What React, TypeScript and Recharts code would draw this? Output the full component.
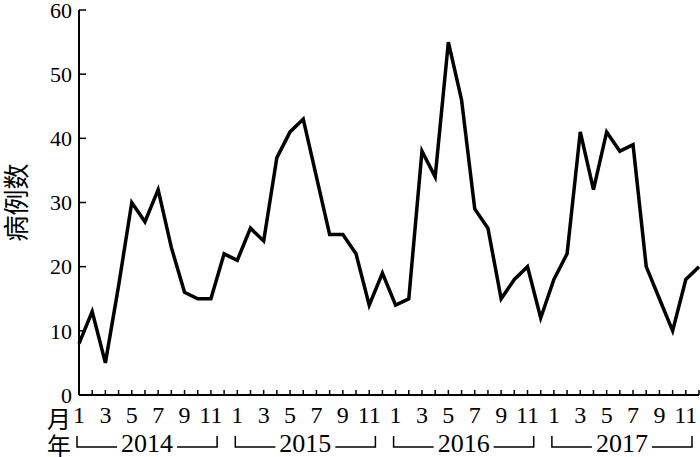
import { LineChart, Line, XAxis, YAxis } from "recharts";

// monthly case counts, Jan..Dec
const years = [2014, 2015, 2016, 2017];
const cases2014 = [8, 13, 5, 17, 30, 27, 32, 23, 16, 15, 15, 22];
const cases2015 = [21, 26, 24, 37, 41, 43, 34, 25, 25, 22, 14, 19];
const cases2016 = [14, 15, 38, 34, 55, 46, 29, 26, 15, 18, 20, 12];
const cases2017 = [18, 22, 41, 32, 41, 38, 39, 20, 15, 10, 18, 20];
const monthLabels = ["1", "", "3", "", "5", "", "7", "", "9", "", "11", ""];
const yTicks = [0, 10, 20, 30, 40, 50, 60];

const W = 700;
const H = 457;
const LEFT = 79;
const RIGHT = 1;
const SERIF = "'Liberation Serif', 'Times New Roman', serif";
const CJK = "'Noto Sans CJK SC', sans-serif";

const perYear = [cases2014, cases2015, cases2016, cases2017];
const data = years.flatMap((yr, yi) =>
  perYear[yi].map((v, m) => ({ idx: yi * 12 + m, year: yr, month: m + 1, cases: v }))
);
const STEP = (W - LEFT - RIGHT) / (data.length - 1);

const MonthTick = (props: any) => {
  const { x, y, payload } = props;
  const i = Number(payload.value);
  return (
    <g>
      {i === 0 && (
        <text x={x - 20} y={y + 11} textAnchor="middle" dominantBaseline="central" fontSize={24} fontFamily={CJK} fill="#000">
          月
        </text>
      )}
      <text x={x} y={y} dy="0.71em" textAnchor="middle" fontSize={24} fontFamily={SERIF} fill="#000">
        {monthLabels[i % 12]}
      </text>
    </g>
  );
};

const YearTick = (props: any) => {
  const { x, y, payload } = props;
  const i = Number(payload.value);
  if (i % 12 !== 0) return <g />;
  const x0 = x - 2;
  const x1 = Math.min(x + 11 * STEP - 7, W - 2);
  const cx = (x0 + x1) / 2;
  const half = 30;
  return (
    <g>
      {i === 0 && (
        <text x={x - 20} y={y + 19} textAnchor="middle" dominantBaseline="central" fontSize={24} fontFamily={CJK} fill="#000">
          年
        </text>
      )}
      <path
        d={`M${x0},${y + 11} V${y + 22} H${cx - half} M${cx + half},${y + 22} H${x1} V${y + 11}`}
        stroke="#000"
        strokeWidth={1.5}
        fill="none"
      />
      <text x={cx} y={y + 18} textAnchor="middle" dominantBaseline="central" fontSize={26} fontFamily={SERIF} fill="#000">
        {years[i / 12]}
      </text>
    </g>
  );
};

const YLabel = (props: any) => {
  const vb = props.viewBox || { y: 10, height: 385 };
  const cy = vb.y + vb.height / 2;
  return (
    <text x={14} y={cy} transform={`rotate(-90 14 ${cy})`} textAnchor="middle" dominantBaseline="central" fontSize={26} fontFamily={CJK} fill="#000">
      病例数
    </text>
  );
};

const App = () => {
  return (
    <div style={{ position: "absolute", left: 0, top: 0, background: "#fff" }}>
      <LineChart width={W} height={H} data={data} margin={{ top: 10, right: RIGHT, left: 0, bottom: 0 }}>
        <XAxis
          xAxisId="m"
          dataKey="idx"
          interval={0}
          height={30}
          tickSize={-5}
          tickMargin={16}
          axisLine={{ stroke: "#000", strokeWidth: 2 }}
          tickLine={{ stroke: "#000", strokeWidth: 1.5 }}
          tick={(p: any) => <MonthTick {...p} />}
        />
        <XAxis
          xAxisId="y"
          dataKey="idx"
          interval={0}
          height={32}
          tickSize={0}
          tickMargin={0}
          axisLine={false}
          tickLine={false}
          tick={(p: any) => <YearTick {...p} />}
        />
        <YAxis
          width={LEFT}
          domain={[0, 60]}
          ticks={yTicks}
          interval={0}
          tickSize={-7}
          tickMargin={14}
          axisLine={{ stroke: "#000", strokeWidth: 2 }}
          tickLine={{ stroke: "#000", strokeWidth: 1.5 }}
          tick={{ fill: "#000", fontSize: 22, fontFamily: SERIF }}
          label={{ content: (p: any) => <YLabel {...p} /> }}
        />
        <Line
          xAxisId="m"
          type="linear"
          dataKey="cases"
          stroke="#000"
          strokeWidth={3.5}
          dot={false}
          isAnimationActive={false}
        />
      </LineChart>
    </div>
  );
};

export default App;
